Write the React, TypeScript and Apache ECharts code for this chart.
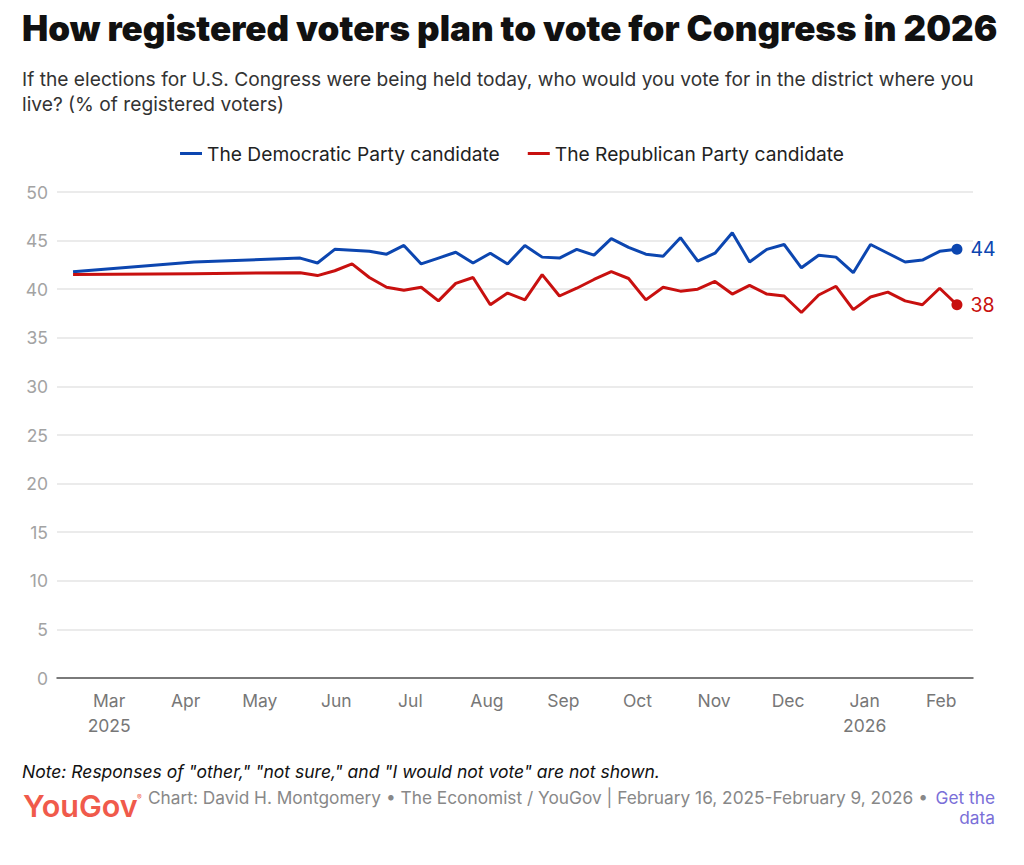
import React, { useEffect, useRef } from "react";
import * as echarts from "echarts";

const TITLE = "How registered voters plan to vote for Congress in 2026";
const SUBTITLE =
  "If the elections for U.S. Congress were being held today, who would you vote for in the district where you\nlive? (% of registered voters)";
const NOTE = 'Note: Responses of "other," "not sure," and "I would not vote" are not shown.';
const CREDIT =
  "Chart: David H. Montgomery \u2022 The Economist / YouGov | February 16, 2025-February 9, 2026 \u2022";

const SERIES_NAMES = ["The Democratic Party candidate", "The Republican Party candidate"];
const COLORS = ["#0c46b0", "#c8100f"];

const dates = [
  "2025-02-16", "2025-04-06", "2025-05-19", "2025-05-26",
  "2025-06-02", "2025-06-09", "2025-06-16", "2025-06-23", "2025-06-30",
  "2025-07-07", "2025-07-14", "2025-07-21", "2025-07-28",
  "2025-08-04", "2025-08-11", "2025-08-18", "2025-08-25",
  "2025-09-01", "2025-09-08", "2025-09-15", "2025-09-22", "2025-09-29",
  "2025-10-06", "2025-10-13", "2025-10-20", "2025-10-27",
  "2025-11-03", "2025-11-10", "2025-11-17", "2025-11-24",
  "2025-12-01", "2025-12-08", "2025-12-15", "2025-12-22", "2025-12-29",
  "2026-01-05", "2026-01-12", "2026-01-19", "2026-01-26",
  "2026-02-02", "2026-02-09",
];

const democratic = [
  41.8, 42.8, 43.2, 42.7,
  44.1, 44.0, 43.9, 43.6, 44.5,
  42.6, 43.2, 43.8, 42.7,
  43.7, 42.6, 44.5, 43.3,
  43.2, 44.1, 43.5, 45.2, 44.3,
  43.6, 43.4, 45.3, 42.9,
  43.7, 45.8, 42.8, 44.1,
  44.6, 42.2, 43.5, 43.3, 41.7,
  44.6, 43.7, 42.8, 43.0,
  43.9, 44.1,
];

const republican = [
  41.5, 41.6, 41.7, 41.4,
  41.9, 42.6, 41.2, 40.2, 39.9,
  40.2, 38.8, 40.6, 41.2,
  38.4, 39.6, 38.9, 41.5,
  39.3, 40.1, 41.0, 41.8, 41.1,
  38.9, 40.2, 39.8, 40.0,
  40.8, 39.5, 40.4, 39.5,
  39.3, 37.6, 39.4, 40.3, 37.9,
  39.2, 39.7, 38.8, 38.4,
  40.1, 38.4,
];

const monthTicks = [
  "2025-03-01", "2025-04-01", "2025-05-01", "2025-06-01", "2025-07-01", "2025-08-01",
  "2025-09-01", "2025-10-01", "2025-11-01", "2025-12-01", "2026-01-01", "2026-02-01",
];
const MONTHS = ["Jan", "Feb", "Mar", "Apr", "May", "Jun", "Jul", "Aug", "Sep", "Oct", "Nov", "Dec"];

const FONT = "Inter, 'Noto Sans', sans-serif";

function toTs(s: string) {
  const [y, m, d] = s.split("-").map(Number);
  return new Date(y, m - 1, d).getTime();
}

export default function App() {
  const ref = useRef<HTMLDivElement>(null);
  useEffect(() => {
    document.body.style.margin = "0";
    const chart = echarts.init(ref.current!, null, { renderer: "svg" });
    const seriesValues = [democratic, republican];
    const lineSeries = seriesValues.map((vals, i) => ({
      name: SERIES_NAMES[i],
      type: "line",
      data: dates.map((d, j) => [toTs(d), vals[j]]),
      showSymbol: false,
      symbol: "none",
      lineStyle: { color: COLORS[i], width: 3 },
      itemStyle: { color: COLORS[i] },
      z: 3,
    }));
    const endSeries = seriesValues.map((vals, i) => ({
      name: SERIES_NAMES[i] + " end",
      type: "scatter",
      data: [[toTs(dates[dates.length - 1]), vals[vals.length - 1]]],
      symbol: "circle",
      symbolSize: 11,
      itemStyle: { color: COLORS[i], opacity: 1 },
      label: {
        show: true,
        position: "right",
        distance: 8,
        formatter: (p: any) => String(Math.round(p.value[1])),
        color: COLORS[i],
        fontSize: 19.5,
        fontFamily: FONT,
      },
      z: 4,
    }));

    chart.setOption({
      animation: false,
      backgroundColor: "#ffffff",
      textStyle: { fontFamily: FONT },
      grid: { left: 57, right: 51, top: 192, bottom: 187, containLabel: false },
      legend: {
        data: SERIES_NAMES.map((n, i) => ({ name: n, itemStyle: { color: COLORS[i] } })),
        top: 139,
        left: "center",
        icon: "rect",
        itemWidth: 22,
        itemHeight: 3,
        itemGap: 28,
        textStyle: { fontSize: 19.2, color: "#222", fontFamily: FONT },
      },
      xAxis: {
        type: "value",
        min: toTs("2025-02-09") + 12 * 3600 * 1000,
        max: toTs("2026-02-15") + 12 * 3600 * 1000,
        axisLine: { show: true, onZero: false, lineStyle: { color: "#555", width: 1.5 } },
        axisTick: { show: false },
        splitLine: { show: false },
        axisLabel: {
          customValues: monthTicks.map(toTs),
          formatter: (v: number) => {
            const d = new Date(v);
            const m = d.getMonth();
            const y = d.getFullYear();
            const name = MONTHS[m];
            if ((m === 2 && y === 2025) || m === 0) return name + "\n" + y;
            return name;
          },
          showMinLabel: true,
          showMaxLabel: true,
          color: "#777",
          fontSize: 17.5,
          lineHeight: 25,
          margin: 10,
          padding: [0, 0, 0, 8],
          fontFamily: FONT,
          hideOverlap: false,
        },
      },
      yAxis: {
        type: "value",
        min: 0,
        max: 50,
        interval: 5,
        axisLine: { show: false },
        axisTick: { show: false },
        splitLine: { show: true, lineStyle: { color: "#e5e5e5", width: 1.5 } },
        axisLabel: {
          color: "#a3a3a3",
          fontSize: 17.5,
          margin: 9,
          fontFamily: FONT,
        },
      },
      series: [...lineSeries, ...endSeries],
      graphic: [
        {
          type: "text",
          left: 22,
          top: 10,
          style: {
            text: TITLE,
            font: `900 35px ${FONT}`,
            fill: "#111",
          },
        },
        {
          type: "text",
          left: 22,
          top: 66,
          style: {
            text: SUBTITLE,
            font: `400 19.2px ${FONT}`,
            fill: "#333",
            lineHeight: 25,
          },
        },
        {
          type: "text",
          left: 22,
          top: 762,
          style: {
            text: NOTE,
            font: `italic 400 17.5px ${FONT}`,
            fill: "#111",
          },
        },
        {
          type: "text",
          left: 23,
          top: 790,
          style: {
            text: "YouGov",
            font: `600 30.5px ${FONT}`,
            fill: "#f05a4b",
          },
        },
        {
          type: "text",
          left: 137,
          top: 794,
          style: {
            text: "\u00ae",
            font: `400 7px ${FONT}`,
            fill: "#f05a4b",
          },
        },
        {
          type: "text",
          left: 148,
          top: 789,
          style: {
            text: CREDIT,
            font: `400 17.3px ${FONT}`,
            fill: "#888",
          },
        },
        {
          type: "text",
          right: 29,
          top: 789,
          style: {
            text: "Get the",
            font: `400 17.3px ${FONT}`,
            fill: "#7a6fd8",
          },
        },
        {
          type: "text",
          right: 29,
          top: 809,
          style: {
            text: "data",
            font: `400 17.3px ${FONT}`,
            fill: "#7a6fd8",
          },
        },
      ],
    });
    return () => chart.dispose();
  }, []);
  return <div ref={ref} style={{ width: 1024, height: 865 }} />;
}
